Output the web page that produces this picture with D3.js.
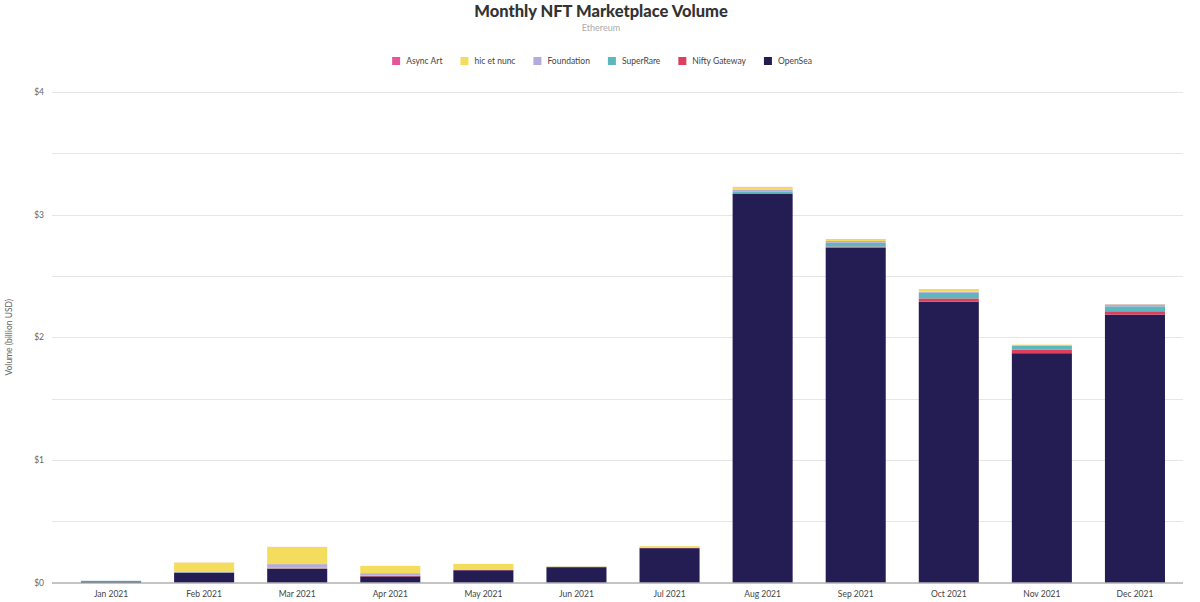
<!DOCTYPE html>
<html>
<head>
<meta charset="utf-8">
<script src="https://cdn.jsdelivr.net/npm/d3@7"></script>
<style>
  html, body { margin: 0; padding: 0; background: #fff; }
  svg { display: block; font-family: "Lato", "Noto Sans", sans-serif; }
</style>
</head>
<body>
<svg id="chart" width="1200" height="602"></svg>
<script>
// monthly volume, billion USD
const months = ['Jan 2021', 'Feb 2021', 'Mar 2021', 'Apr 2021', 'May 2021', 'Jun 2021',
                'Jul 2021', 'Aug 2021', 'Sep 2021', 'Oct 2021', 'Nov 2021', 'Dec 2021'];
const openSea      = [0.008, 0.08, 0.11, 0.05, 0.10, 0.125, 0.28, 3.17, 2.73, 2.29, 1.87, 2.185];
const niftyGateway = [0.003, 0.002, 0.005, 0.003, 0.002, 0.001, 0.002, 0.005, 0.01, 0.027, 0.03, 0.027];
const superRare    = [0.003, 0.003, 0.005, 0.003, 0.002, 0.002, 0.002, 0.015, 0.03, 0.045, 0.03, 0.04];
const foundation   = [0, 0.002, 0.03, 0.02, 0.003, 0.002, 0.002, 0.015, 0.015, 0.01, 0.005, 0.015];
const hicEtNunc    = [0, 0.075, 0.14, 0.06, 0.045, 0.003, 0.01, 0.02, 0.015, 0.02, 0.005, 0.002];
const asyncArt     = [0, 0.0005, 0.0005, 0, 0, 0, 0, 0.001, 0.001, 0.001, 0, 0.001];
const yTicks = [0, 0.5, 1, 1.5, 2, 2.5, 3, 3.5, 4];

// legend order (left to right); stacked in reverse, OpenSea at the bottom
const seriesNames = ['Async Art', 'hic et nunc', 'Foundation', 'SuperRare', 'Nifty Gateway', 'OpenSea'];
const seriesValues = [asyncArt, hicEtNunc, foundation, superRare, niftyGateway, openSea];
const colors = ['#e5559a', '#f4dc5c', '#b3acda', '#5cb7be', '#df3f5e', '#241d54'];

const svg = d3.select('#chart');
const plotL = 64.5, plotR = 1181.5, plotT = 92, plotB = 582.5;

const rows = months.map((m, i) => {
  const r = { month: m };
  seriesNames.forEach((s, j) => r[s] = seriesValues[j][i]);
  return r;
});
const stackKeys = seriesNames.slice().reverse();
const stacked = d3.stack().keys(stackKeys)(rows);
const color = d3.scaleOrdinal().domain(seriesNames).range(colors);

const x = d3.scaleBand().domain(months).range([plotL, plotR]).paddingInner(0.355).paddingOuter(0.1775);
const y = d3.scaleLinear().domain([0, 4]).range([plotB, plotT]);

// grid
svg.append('g').selectAll('line').data(yTicks.filter(t => t > 0)).join('line')
  .attr('x1', 52).attr('x2', 1183)
  .attr('y1', d => Math.round(y(d)) + 0.5).attr('y2', d => Math.round(y(d)) + 0.5)
  .attr('stroke', '#e6e6e6').attr('stroke-width', 1);

// y labels (whole dollars only)
svg.append('g').selectAll('text').data(yTicks.filter(t => Number.isInteger(t))).join('text')
  .attr('x', 44).attr('y', d => y(d) + 3)
  .attr('text-anchor', 'end').attr('font-size', 8.5).attr('fill', '#666')
  .text(d => '$' + d);

svg.append('text')
  .attr('transform', 'translate(12,' + (plotT + plotB) / 2 + ') rotate(-90)')
  .attr('text-anchor', 'middle').attr('font-size', 8.5).attr('fill', '#666')
  .text('Volume (billion USD)');

// bars
svg.append('g').selectAll('g').data(stacked).join('g')
  .attr('fill', d => color(d.key))
  .selectAll('rect').data(d => d).join('rect')
  .attr('x', d => x(d.data.month))
  .attr('width', x.bandwidth())
  .attr('y', d => y(d[1]))
  .attr('height', d => Math.max(0, y(d[0]) - y(d[1])));

// x axis
const xAxis = svg.append('g').attr('transform', 'translate(0,' + plotB + ')')
  .call(d3.axisBottom(x).tickSize(0).tickPadding(8));
xAxis.select('.domain').attr('d', 'M52,0.5H1183').attr('stroke', '#8a8a8a');
xAxis.selectAll('text').attr('font-size', 8.5).attr('fill', '#444')
  .attr('font-family', '"Lato", "Noto Sans", sans-serif');

// title
svg.append('text').attr('x', 601).attr('y', 17).attr('text-anchor', 'middle')
  .attr('font-size', 16.5).attr('font-weight', 900).attr('fill', '#333')
  .text('Monthly NFT Marketplace Volume');
svg.append('text').attr('x', 601).attr('y', 31).attr('text-anchor', 'middle')
  .attr('font-size', 9).attr('fill', '#aaa').text('Ethereum');

// legend
const legend = svg.append('g');
const items = legend.selectAll('g').data(seriesNames).join('g');
items.append('rect').attr('width', 8).attr('height', 8).attr('y', -4)
  .attr('fill', d => color(d));
items.append('text').attr('x', 14).attr('y', 3).attr('font-size', 8.5).attr('fill', '#444')
  .text(d => d);
let cx = 0;
items.each(function () {
  d3.select(this).attr('transform', 'translate(' + cx + ',0)');
  cx += 14 + this.querySelector('text').getComputedTextLength() + 18;
});
legend.attr('transform', 'translate(' + (602 - (cx - 18) / 2) + ',61)');
</script>
</body>
</html>
